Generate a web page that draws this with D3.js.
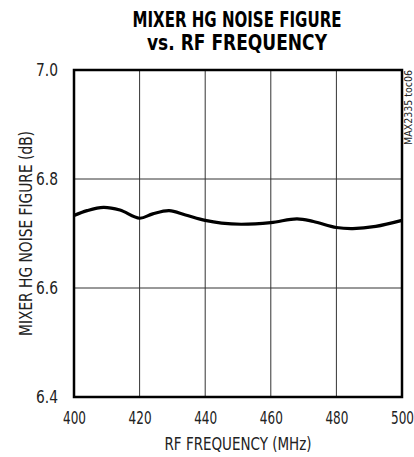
<!DOCTYPE html>
<html>
<head>
<meta charset="utf-8">
<script src="https://cdn.jsdelivr.net/npm/d3@7"></script>
<style>
  body { margin: 0; background: #fff; }
  svg { display: block; }
  text { font-family: "DejaVu Sans Condensed", "Liberation Sans", sans-serif; fill: #222; }
</style>
</head>
<body>
<div id="chart"></div>
<script>
// MAX2335 mixer HG noise figure vs RF frequency

var freqMHz = [400, 404, 409, 414, 420, 424, 429, 434, 440, 445, 451, 460, 468, 473, 480, 485, 492, 500];
var noiseFigure = [6.733, 6.742, 6.748, 6.743, 6.728, 6.736, 6.742, 6.734, 6.724, 6.719, 6.717, 6.720, 6.727, 6.722, 6.711, 6.709, 6.713, 6.724];

var xTicks = [400, 420, 440, 460, 480, 500];
var yTicks = [6.4, 6.6, 6.8, 7.0];

var totalW = 414, totalH = 457;
var margin = { top: 70, right: 12, bottom: 60, left: 74 };
var width = 402 - margin.left;
var height = 397 - margin.top;

var svg = d3.select("#chart").append("svg")
    .attr("width", totalW)
    .attr("height", totalH);

var g = svg.append("g")
    .attr("transform", "translate(" + margin.left + "," + margin.top + ")");

var x = d3.scaleLinear().domain([400, 500]).range([0, width]);
var y = d3.scaleLinear().domain([6.4, 7.0]).range([height, 0]);

// squeeze text horizontally to mimic the condensed face of the original
function condense(sel, len) {
    sel.attr("textLength", len).attr("lengthAdjust", "spacingAndGlyphs");
}

// same idea, but with a real transform so the box shrinks too
function squeeze(sel, len) {
    sel.each(function() {
        var w = this.getComputedTextLength();
        var prev = d3.select(this).attr("transform") || "";
        d3.select(this).attr("transform", prev + " scale(" + (len / w) + ",1)");
    });
}

// --- Grid ---
g.append("g")
    .selectAll("line.vgrid")
    .data(xTicks.slice(1, -1))
    .enter().append("line")
    .attr("x1", function(d) { return x(d); })
    .attr("x2", function(d) { return x(d); })
    .attr("y1", 0)
    .attr("y2", height)
    .style("stroke", "#333")
    .style("stroke-width", 1);

g.append("g")
    .selectAll("line.hgrid")
    .data(yTicks.slice(1, -1))
    .enter().append("line")
    .attr("x1", 0)
    .attr("x2", width)
    .attr("y1", function(d) { return y(d); })
    .attr("y2", function(d) { return y(d); })
    .style("stroke", "#333")
    .style("stroke-width", 1);

// --- Curve ---
var lineGen = d3.line()
    .curve(d3.curveCatmullRom.alpha(0.5))
    .x(function(d, i) { return x(freqMHz[i]); })
    .y(function(d) { return y(d); });

g.append("path")
    .datum(noiseFigure)
    .attr("fill", "none")
    .attr("stroke", "#000")
    .attr("stroke-width", 3.2)
    .attr("stroke-linejoin", "round")
    .attr("d", lineGen);

// --- Frame ---
g.append("rect")
    .attr("x", 0)
    .attr("y", 0)
    .attr("width", width)
    .attr("height", height)
    .style("fill", "none")
    .style("stroke", "#000")
    .style("stroke-width", 2.5);

// --- Tick labels ---
g.append("g")
    .attr("transform", "translate(0," + height + ")")
    .call(d3.axisBottom(x).tickValues(xTicks).tickSize(0).tickPadding(15).tickFormat(d3.format("d")))
    .call(function(a) { a.select(".domain").remove(); })
    .selectAll("text")
        .style("font-size", "17px")
        .style("font-family", "'DejaVu Sans Condensed', 'Liberation Sans', sans-serif")
        .style("fill", "#222")
        .call(squeeze, 23);

g.append("g")
    .call(d3.axisLeft(y).tickValues(yTicks).tickSize(0).tickPadding(16).tickFormat(d3.format(".1f")))
    .call(function(a) { a.select(".domain").remove(); })
    .selectAll("text")
        .style("font-size", "17px")
        .style("font-family", "'DejaVu Sans Condensed', 'Liberation Sans', sans-serif")
        .style("fill", "#222")
        .call(condense, 22);

// --- Axis labels ---
svg.append("text")
    .attr("x", margin.left + width / 2)
    .attr("y", 450)
    .attr("text-anchor", "middle")
    .style("font-size", "17px")
    .text("RF FREQUENCY (MHz)")
    .call(condense, 147);

svg.append("text")
    .attr("transform", "rotate(-90)")
    .attr("x", -(margin.top + height / 2))
    .attr("y", 32)
    .attr("text-anchor", "middle")
    .style("font-size", "17px")
    .text("MIXER HG NOISE FIGURE (dB)")
    .call(condense, 205);

// --- Title ---
svg.append("text")
    .attr("x", 237)
    .attr("y", 27)
    .attr("text-anchor", "middle")
    .style("font-size", "21px")
    .style("font-weight", "bold")
    .style("fill", "#000")
    .text("MIXER HG NOISE FIGURE")
    .call(condense, 209);

svg.append("text")
    .attr("x", 237)
    .attr("y", 50)
    .attr("text-anchor", "middle")
    .style("font-size", "21px")
    .style("font-weight", "bold")
    .style("fill", "#000")
    .text("vs. RF FREQUENCY")
    .call(condense, 180);

// --- Part tag ---
svg.append("text")
    .attr("transform", "rotate(-90)")
    .attr("x", -70)
    .attr("y", 412)
    .attr("text-anchor", "end")
    .style("font-size", "10px")
    .text("MAX2335 toc06")
    .call(condense, 75);
</script>
</body>
</html>
